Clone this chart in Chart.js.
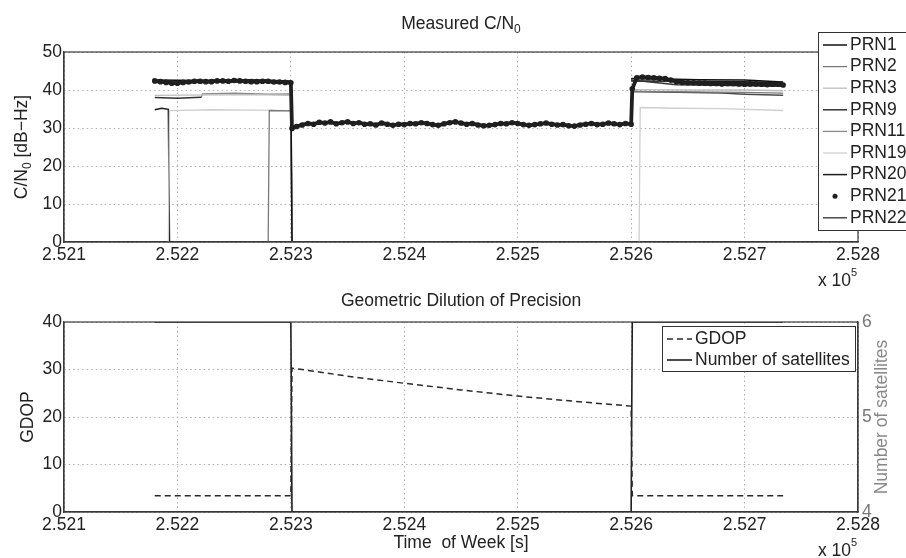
<!DOCTYPE html>
<html><head><meta charset="utf-8">
<script src="https://cdn.jsdelivr.net/npm/chart.js@4.4.1/dist/chart.umd.min.js"></script>
<style>
html,body{margin:0;padding:0;background:#fff;width:906px;height:558px;overflow:hidden;}
#w1{position:absolute;left:0;top:0;width:906px;height:290px;}
#w2{position:absolute;left:0;top:279px;width:906px;height:279px;}
</style></head><body>
<div id="w1"><canvas id="c1"></canvas></div>
<div id="w2"><canvas id="c2"></canvas></div>
<script>
// ---------- data (time of week [s]) ----------
const xTickValues = [252100,252200,252300,252400,252500,252600,252700,252800];

const prnLabels = ['PRN1','PRN2','PRN3','PRN9','PRN11','PRN19','PRN20','PRN21','PRN22'];

const t1 = [252180,252220,252260,252300,252301,252450,252600,252630,252660,252700,252734];
const v1 = [42.6,42.5,42.7,42.4,0,null,43.0,42.9,42.7,42.6,42.1];

const t2 = [252280,252281,252300,252301,252450,252600,252650,252700,252734];
const v2 = [0,34.6,34.5,0,null,39.6,39.5,39.4,39.2];

const t3 = [252180,252230,252270,252300,252301,252450,252600,252650,252700,252734];
const v3 = [38.6,38.7,38.8,38.6,0,null,40.1,40.0,40.0,39.8];

const t9 = [252180,252200,252221,252450,252600,252640,252690,252734];
const v9 = [38.0,37.8,38.1,null,42.6,41.4,41.2,41.0];

const t11 = [252221,252222,252250,252280,252300,252301];
const v11 = [38.0,39.0,39.2,38.9,39.0,0];

const t19 = [252192,252193,252230,252270,252300,252301,252450,252607,252608,252640,252680,252734];
const v19 = [0,34.6,34.8,34.7,34.5,0,null,0,35.4,35.2,35.1,34.6];

const t20 = [252180,252186,252192,252193,252450,252600,252650,252700,252734];
const v20 = [34.8,35.2,34.9,0,null,42.4,42.3,42.2,41.9];

const t21 = [252180,252185,252190,252195,252200,252205,252210,252215,252220,252225,252230,252235,252240,252245,
  252250,252255,252260,252265,252270,252275,252280,252285,252290,252295,252300,
  252301,252305,252310,252315,252320,252325,252330,252335,252340,252345,252350,252355,252360,252365,252370,
  252375,252380,252385,252390,252395,252400,252405,252410,252415,252420,252425,252430,252435,252440,252445,
  252450,252455,252460,252465,252470,252475,252480,252485,252490,252495,252500,252505,252510,252515,252520,
  252525,252530,252535,252540,252545,252550,252555,252560,252565,252570,252575,252580,252585,252590,252595,252600,
  252601,252605,252610,252615,252620,252625,252630,252635,252640,252645,252650,252655,252660,252665,252670,
  252675,252680,252685,252690,252695,252700,252705,252710,252715,252720,252725,252730,252734];
const v21 = [42.4,42.2,42.0,41.8,41.8,42.0,42.1,42.3,42.3,42.2,42.2,42.4,42.4,42.3,
  42.5,42.4,42.3,42.2,42.2,42.3,42.3,42.1,42.1,42.0,41.9,
  29.9,30.4,30.8,31.2,31.0,31.5,31.3,31.6,31.1,31.4,31.6,31.2,31.4,31.0,31.1,
  30.8,31.3,31.0,30.7,31.0,30.9,31.2,31.1,31.4,31.2,30.9,30.7,31.1,31.4,31.6,
  31.3,31.0,31.2,30.8,30.6,30.7,30.9,31.2,31.1,31.4,31.2,30.9,30.7,30.9,31.1,
  31.3,31.0,30.8,30.9,30.6,30.5,30.8,31.0,31.2,30.9,31.0,31.3,31.1,30.9,31.2,31.0,
  40.3,43.2,43.4,43.3,43.2,43.1,43.0,42.6,42.2,42.0,41.9,41.9,41.8,41.8,41.7,
  41.7,41.6,41.7,41.7,41.6,41.5,41.6,41.6,41.5,41.4,41.5,41.5,41.3];

const t22 = [252180,252240,252300,252301,252450,252600,252640,252680,252700,252734];
const v22 = [42.0,42.2,42.0,0,null,39.6,39.4,39.2,38.9,38.6];

const tGdop = [252180,252300,252301,252350,252400,252450,252500,252550,252600,252601,252734];
const vGdop = [3.4,3.4,30.3,28.6,27.1,25.7,24.4,23.3,22.3,3.4,3.4];

const tSats = [252180,252300,252301,252600,252601,252734];
const vSats = [6,6,4,4,6,6];

// ---------- helpers ----------
const FONT = '"Liberation Sans", Arial, Helvetica, sans-serif';
const FS = 17.5;
const pts = (t, v) => t.map((x, i) => ({x: x, y: v[i]}));

function drawRuns(ctx, runs, x, y, align, rotate, color) {
  let total = 0;
  runs.forEach(r => { ctx.font = r.size + 'px ' + FONT; r.w = ctx.measureText(r.t).width; total += r.w; });
  ctx.save();
  ctx.translate(x, y);
  if (rotate) ctx.rotate(-Math.PI / 2);
  ctx.fillStyle = color || '#222';
  ctx.textBaseline = 'middle';
  ctx.textAlign = 'left';
  let cx = align === 'center' ? -total / 2 : (align === 'right' ? -total : 0);
  runs.forEach(r => { ctx.font = r.size + 'px ' + FONT; ctx.fillText(r.t, cx, r.dy || 0); cx += r.w; });
  ctx.restore();
}

const decor = {
  id: 'decor',
  afterDatasetsDraw(chart, args, o) {
    const ctx = chart.ctx, a = chart.chartArea;
    ctx.save();
    ctx.strokeStyle = '#3a3a3a';
    ctx.lineWidth = 1.2;
    ctx.setLineDash([]);
    ctx.strokeRect(a.left, a.top, a.right - a.left, a.bottom - a.top);
    (o.texts || []).forEach(t => drawRuns(ctx, t.runs, t.x, t.y, t.align, t.rotate, t.color));
    const L = o.legend;
    if (L) {
      ctx.fillStyle = '#fff';
      ctx.fillRect(L.x, L.y, L.w, L.h);
      ctx.strokeStyle = '#333';
      ctx.lineWidth = 1;
      ctx.strokeRect(L.x + 0.5, L.y + 0.5, L.w, L.h);
      chart.data.datasets.forEach((ds, i) => {
        const y = L.firstY + i * L.rowH;
        if (ds.showLegendDot) {
          ctx.fillStyle = ds.borderColor;
          ctx.beginPath();
          ctx.arc((L.sx0 + L.sx1) / 2, y, 2.5, 0, Math.PI * 2);
          ctx.fill();
        } else {
          ctx.strokeStyle = ds.borderColor;
          ctx.lineWidth = Math.min(ds.borderWidth, 1.6);
          ctx.setLineDash(ds.borderDash || []);
          ctx.beginPath();
          ctx.moveTo(L.sx0, y);
          ctx.lineTo(L.sx1, y);
          ctx.stroke();
          ctx.setLineDash([]);
        }
        ctx.fillStyle = '#222';
        ctx.font = FS + 'px ' + FONT;
        ctx.textBaseline = 'middle';
        ctx.textAlign = 'left';
        ctx.fillText(ds.label, L.tx, y);
      });
    }
    ctx.restore();
  }
};

const gridCfg = {color: '#b0b0b0', lineWidth: 1, drawTicks: false};
const borderCfg = {display: true, color: '#3a3a3a', width: 1.2, dash: [1.5, 3]};
const tickFont = {family: FONT, size: FS};

function xScale(h) {
  return {
    type: 'linear', min: 252100, max: 252800,
    afterBuildTicks: s => { s.ticks = xTickValues.map(v => ({value: v})); },
    ticks: {font: tickFont, color: '#222', padding: 3, maxRotation: 0, autoSkip: false,
      callback: v => (v / 1e5).toFixed(3)},
    grid: gridCfg, border: borderCfg,
    afterFit: s => { s.height = h; }
  };
}

// ---------- top chart ----------
const prnStyles = [
  {t: t1, v: v1, c: '#111111', w: 1.5},
  {t: t2, v: v2, c: '#7a7a7a', w: 1.3},
  {t: t3, v: v3, c: '#bdbdbd', w: 1.3},
  {t: t9, v: v9, c: '#333333', w: 1.5},
  {t: t11, v: v11, c: '#8a8a8a', w: 1.3},
  {t: t19, v: v19, c: '#cfcfcf', w: 1.3},
  {t: t20, v: v20, c: '#1c1c1c', w: 1.5},
  {t: t21, v: v21, c: '#1f1f1f', w: 3.8, dot: true},
  {t: t22, v: v22, c: '#4a4a4a', w: 1.5}
];

new Chart(document.getElementById('c1'), {
  type: 'line',
  data: {
    datasets: prnLabels.map((lab, i) => {
      const s = prnStyles[i];
      return {
        label: lab, data: pts(s.t, s.v), borderColor: s.c, backgroundColor: s.c,
        borderWidth: s.w, pointRadius: s.dot ? 2.8 : 0, pointBackgroundColor: s.c,
        pointBorderWidth: 0, spanGaps: false, tension: 0, showLegendDot: !!s.dot,
        order: s.dot ? 0 : 1
      };
    })
  },
  options: {
    responsive: true, maintainAspectRatio: false, animation: false, devicePixelRatio: 1,
    layout: {padding: {top: 52, right: 48, left: 0, bottom: 0}},
    scales: {
      x: xScale(48),
      y: {min: 0, max: 50, ticks: {stepSize: 10, font: tickFont, color: '#222', padding: 2},
        grid: gridCfg, border: borderCfg, afterFit: s => { s.width = 64; }}
    },
    plugins: {
      legend: {display: false}, tooltip: {enabled: false},
      decor: {
        texts: [
          {runs: [{t: 'Measured C/N', size: FS}, {t: '0', size: 12, dy: 6}], x: 461, y: 24, align: 'center'},
          {runs: [{t: 'C/N', size: FS}, {t: '0', size: 12, dy: 6}, {t: ' [dB\u2212Hz]', size: FS}], x: 22, y: 147, align: 'center', rotate: true},
          {runs: [{t: 'x 10', size: FS}, {t: '5', size: 11, dy: -8}], x: 818, y: 281, align: 'left'}
        ],
        legend: {x: 818, y: 32, w: 120, h: 198, firstY: 45, rowH: 21.6, sx0: 823, sx1: 847, tx: 850}
      }
    }
  },
  plugins: [decor]
});

// ---------- bottom chart ----------
new Chart(document.getElementById('c2'), {
  type: 'line',
  data: {
    datasets: [
      {label: 'GDOP', data: pts(tGdop, vGdop), yAxisID: 'y', borderColor: '#2a2a2a', borderWidth: 1.5,
        borderDash: [6, 4], pointRadius: 0, tension: 0},
      {label: 'Number of satellites', data: pts(tSats, vSats), yAxisID: 'y1', borderColor: '#1e1e1e',
        borderWidth: 1.6, pointRadius: 0, tension: 0}
    ]
  },
  options: {
    responsive: true, maintainAspectRatio: false, animation: false, devicePixelRatio: 1,
    layout: {padding: {top: 43, right: 0, left: 0, bottom: 0}},
    scales: {
      x: xScale(46),
      y: {position: 'left', min: 0, max: 40, ticks: {stepSize: 10, font: tickFont, color: '#222', padding: 2},
        grid: gridCfg, border: borderCfg, afterFit: s => { s.width = 64; }},
      y1: {position: 'right', min: 4, max: 6, ticks: {stepSize: 1, font: tickFont, color: '#777', padding: 4},
        grid: {drawOnChartArea: false, drawTicks: false}, border: {display: true, color: '#3a3a3a', width: 1.2},
        afterFit: s => { s.width = 48; }}
    },
    plugins: {
      legend: {display: false}, tooltip: {enabled: false},
      decor: {
        texts: [
          {runs: [{t: 'Geometric Dilution of Precision', size: FS}], x: 461, y: 22, align: 'center'},
          {runs: [{t: 'GDOP', size: FS}], x: 28, y: 138, align: 'center', rotate: true},
          {runs: [{t: 'Number of satellites', size: FS}], x: 882, y: 138, align: 'center', rotate: true, color: '#888'},
          {runs: [{t: 'Time  of Week [s]', size: FS}], x: 461, y: 264, align: 'center'},
          {runs: [{t: 'x 10', size: FS}, {t: '5', size: 11, dy: -8}], x: 818, y: 272, align: 'left'}
        ],
        legend: {x: 662, y: 47, w: 193, h: 45, firstY: 60, rowH: 21, sx0: 667, sx1: 692, tx: 695}
      }
    }
  },
  plugins: [decor]
});
</script>
</body></html>
